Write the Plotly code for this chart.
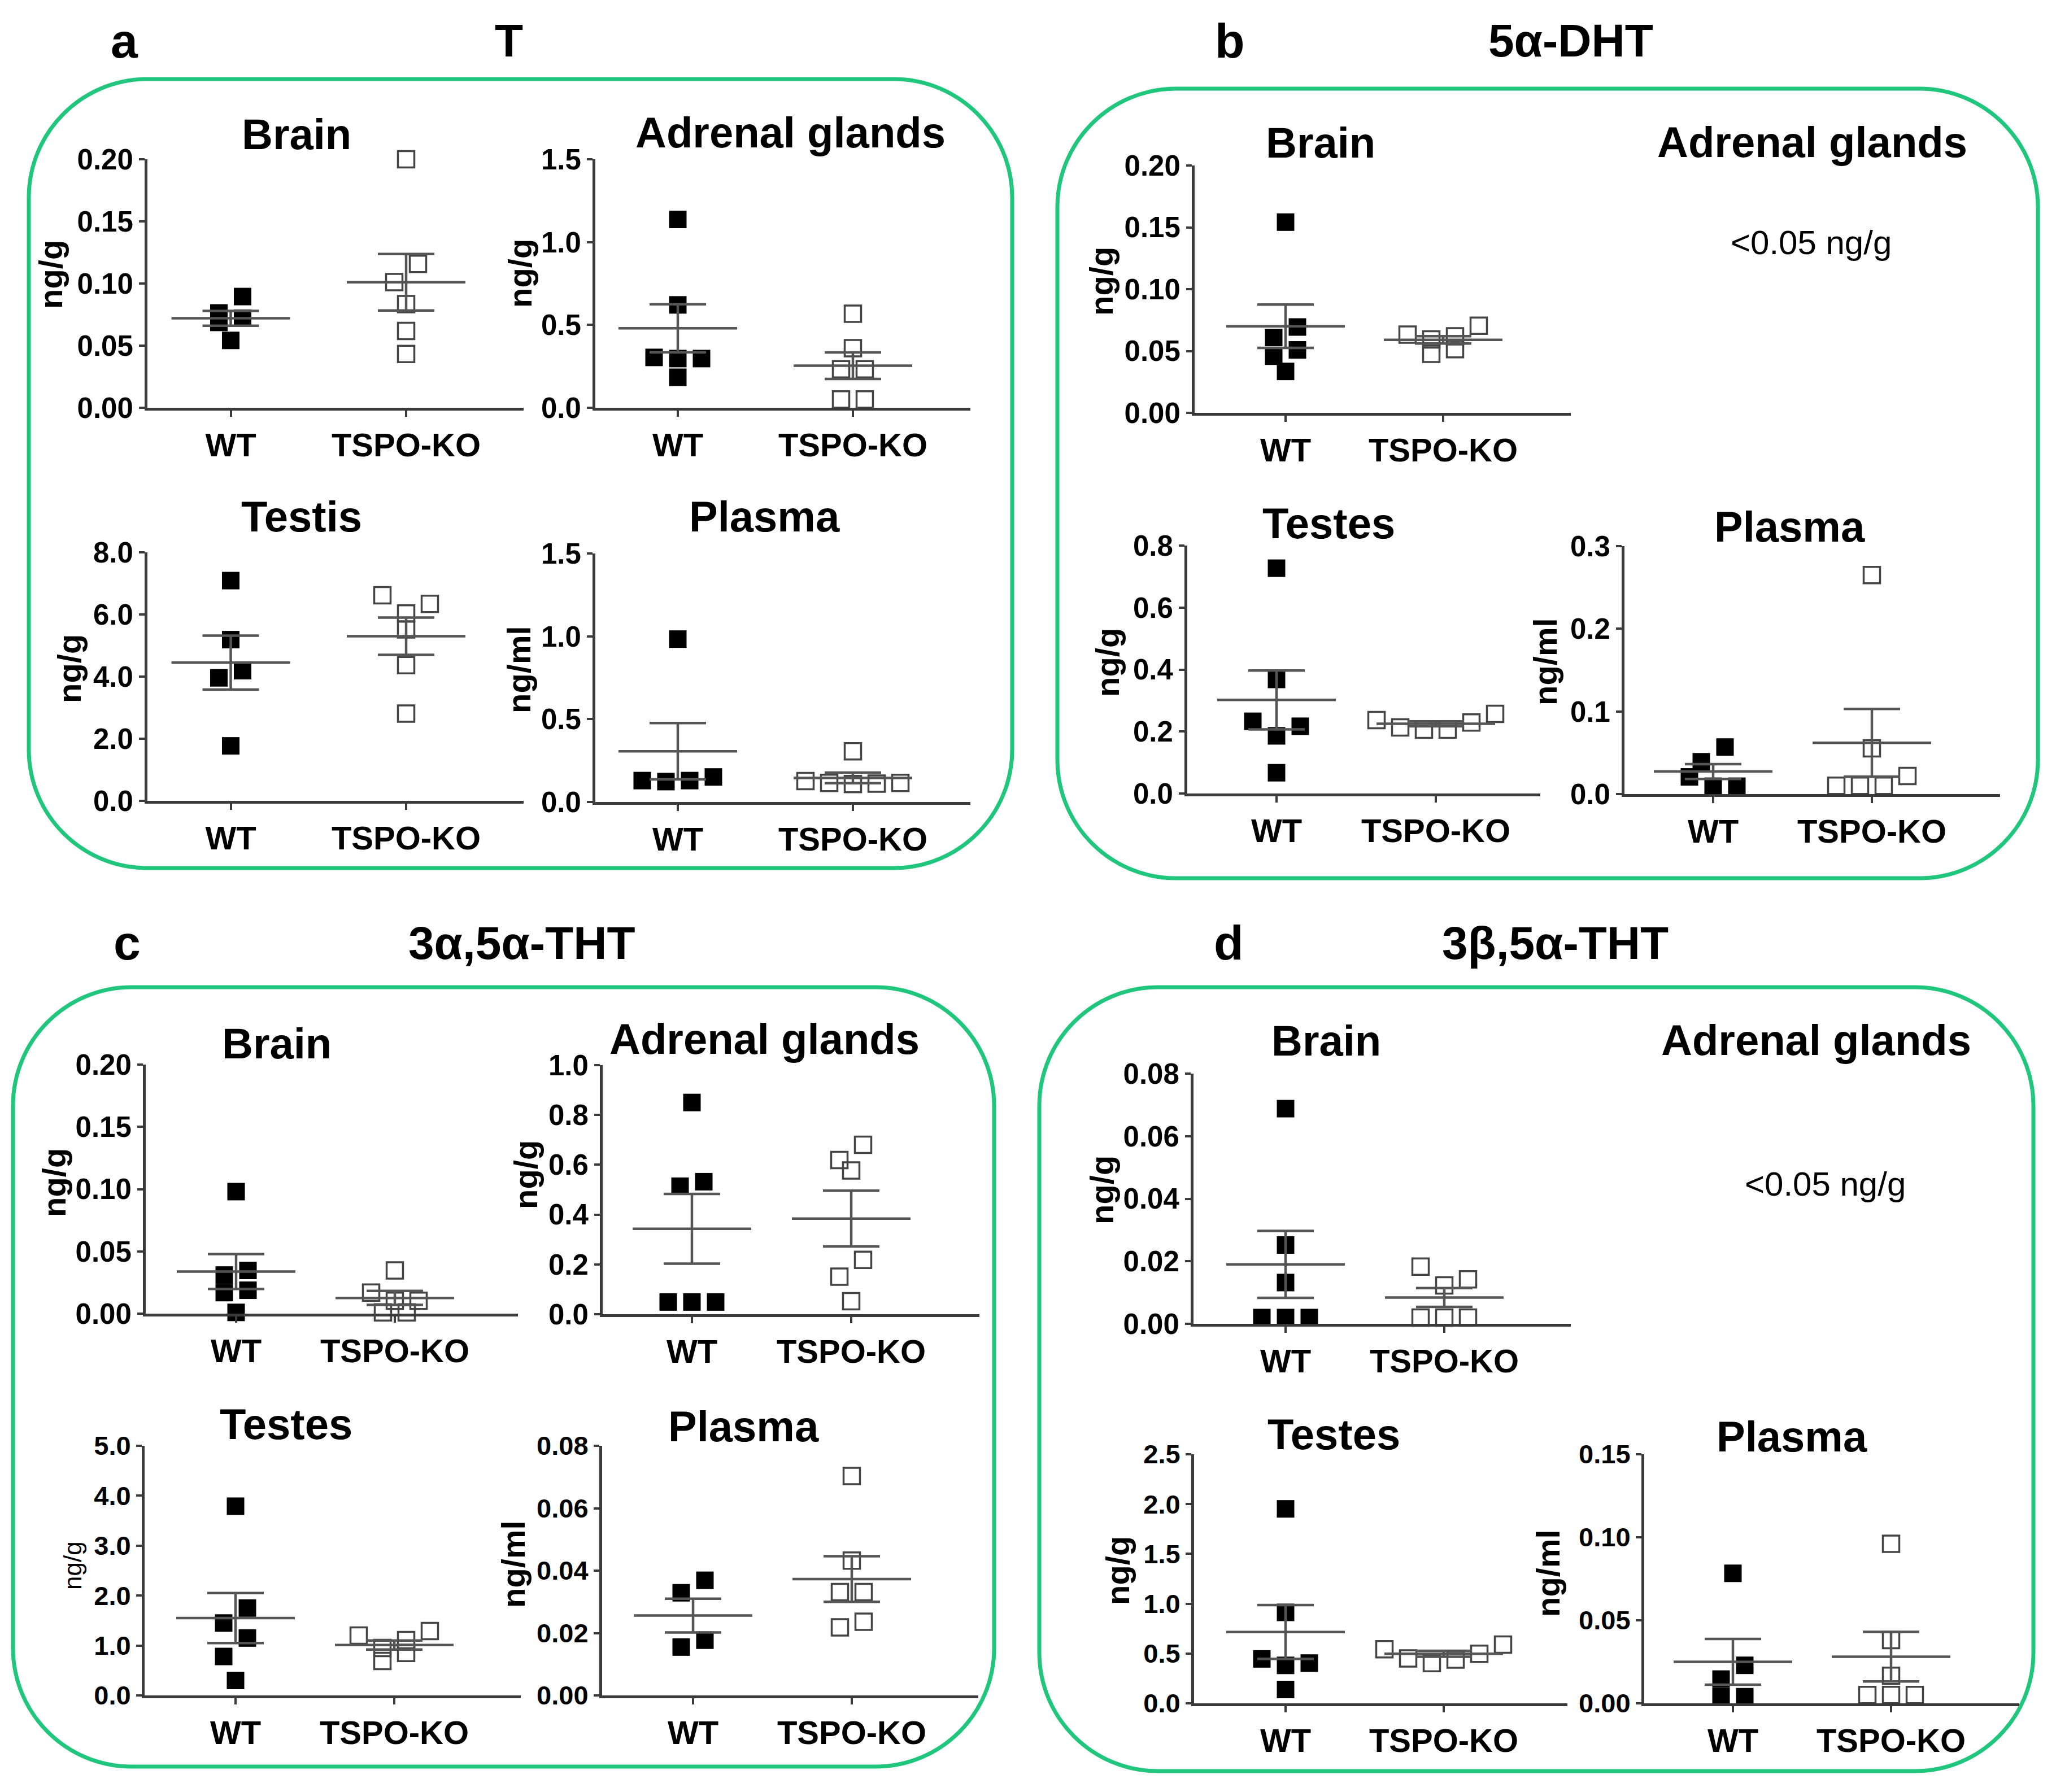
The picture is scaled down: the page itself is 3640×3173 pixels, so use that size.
import plotly.graph_objects as go

W, H = 3640, 3173
GROUPS = ["WT", "TSPO-KO"]
FONT = "Liberation Sans, Arial, Helvetica, sans-serif"

# ---------------- values ----------------
# a) T
T_brain_wt = [0.0895, 0.0763, 0.0721, 0.0687, 0.0542]
T_brain_ko = [0.200, 0.1158, 0.1011, 0.0834, 0.0618, 0.0433]
T_brain_mean = [0.072, 0.101]
T_brain_sem = [0.006, 0.0227]

T_adr_wt = [1.137, 0.621, 0.304, 0.297, 0.297, 0.184]
T_adr_ko = [0.568, 0.360, 0.233, 0.233, 0.05, 0.05]
T_adr_mean = [0.480, 0.254]
T_adr_sem = [0.145, 0.080]

T_tes_wt = [7.09, 5.19, 4.19, 3.96, 1.77]
T_tes_ko = [6.62, 6.34, 6.03, 5.52, 4.37, 2.81]
T_tes_mean = [4.45, 5.30]
T_tes_sem = [0.87, 0.60]

T_pla_wt = [0.983, 0.151, 0.129, 0.129, 0.123]
T_pla_ko = [0.306, 0.126, 0.115, 0.115, 0.111, 0.108]
T_pla_mean = [0.306, 0.145]
T_pla_sem = [0.170, 0.032]

# b) 5a-DHT
DHT_brain_wt = [0.1542, 0.0694, 0.0609, 0.0509, 0.0458, 0.0335]
DHT_brain_ko = [0.0704, 0.0632, 0.0619, 0.0594, 0.0515, 0.0477]
DHT_brain_mean = [0.070, 0.059]
DHT_brain_sem = [0.0175, 0.003]

DHT_tes_wt = [0.727, 0.368, 0.233, 0.217, 0.186, 0.067]
DHT_tes_ko = [0.257, 0.237, 0.229, 0.213, 0.206, 0.206]
DHT_tes_mean = [0.302, 0.225]
DHT_tes_sem = [0.095, 0.008]

DHT_pla_wt = [0.0569, 0.0391, 0.0208, 0.0095, 0.0095]
DHT_pla_ko = [0.265, 0.0554, 0.0219, 0.010, 0.010, 0.010]
DHT_pla_mean = [0.0273, 0.062]
DHT_pla_sem = [0.009, 0.041]

# c) 3a,5a-THT
aTHT_brain_wt = [0.098, 0.0347, 0.031, 0.0188, 0.0169, 0.001]
aTHT_brain_ko = [0.0347, 0.0169, 0.0103, 0.0103, 0.001, 0.001]
aTHT_brain_mean = [0.0338, 0.0126]
aTHT_brain_sem = [0.014, 0.0056]

aTHT_adr_wt = [0.850, 0.532, 0.514, 0.049, 0.049, 0.049]
aTHT_adr_ko = [0.680, 0.619, 0.577, 0.218, 0.151, 0.052]
aTHT_adr_mean = [0.343, 0.384]
aTHT_adr_sem = [0.140, 0.112]

aTHT_tes_wt = [3.79, 1.75, 1.45, 1.15, 0.78, 0.30]
aTHT_tes_ko = [1.29, 1.20, 1.11, 0.95, 0.85, 0.69]
aTHT_tes_mean = [1.55, 1.01]
aTHT_tes_sem = [0.50, 0.09]

aTHT_pla_wt = [0.0369, 0.0329, 0.0177, 0.0155]
aTHT_pla_ko = [0.0703, 0.0432, 0.0331, 0.0331, 0.0236, 0.0218]
aTHT_pla_mean = [0.0256, 0.0373]
aTHT_pla_sem = [0.0054, 0.0073]

# d) 3b,5a-THT
bTHT_brain_wt = [0.0688, 0.0252, 0.0132, 0.002, 0.002, 0.002]
bTHT_brain_ko = [0.0183, 0.0142, 0.0123, 0.002, 0.002, 0.002]
bTHT_brain_mean = [0.019, 0.0084]
bTHT_brain_sem = [0.0107, 0.003]

bTHT_tes_wt = [1.952, 0.913, 0.446, 0.404, 0.381, 0.139]
bTHT_tes_ko = [0.589, 0.543, 0.497, 0.451, 0.439, 0.404]
bTHT_tes_mean = [0.716, 0.497]
bTHT_tes_sem = [0.27, 0.03]

bTHT_pla_wt = [0.0783, 0.0229, 0.0146, 0.004, 0.004]
bTHT_pla_ko = [0.0961, 0.0381, 0.0166, 0.005, 0.005, 0.005]
bTHT_pla_mean = [0.025, 0.0281]
bTHT_pla_sem = [0.0138, 0.0149]

# y tick values
TICKS_020 = [0, 0.05, 0.10, 0.15, 0.20]
TICKS_15 = [0, 0.5, 1.0, 1.5]
TICKS_8 = [0, 2.0, 4.0, 6.0, 8.0]
TICKS_08 = [0, 0.2, 0.4, 0.6, 0.8]
TICKS_03 = [0, 0.1, 0.2, 0.3]
TICKS_10 = [0, 0.2, 0.4, 0.6, 0.8, 1.0]
TICKS_5 = [0, 1.0, 2.0, 3.0, 4.0, 5.0]
TICKS_008 = [0, 0.02, 0.04, 0.06, 0.08]
TICKS_25 = [0, 0.5, 1.0, 1.5, 2.0, 2.5]
TICKS_015 = [0, 0.05, 0.10, 0.15]

PANEL_LABELS = ["a", "b", "c", "d"]
PANEL_TITLES = ["T", "5α-DHT", "3α,5α-THT", "3β,5α-THT"]
BELOW_TEXT = "<0.05 ng/g"

# ---------------- layout (pixel geometry) ----------------
# box = (y-axis x, x-axis right end, top tick y, x-axis y); cx = (WT x, KO x)
PLOTS = [
    dict(title="Brain", ylab="ng/g", wt=T_brain_wt, ko=T_brain_ko, mean=T_brain_mean, sem=T_brain_sem,
         ticks=TICKS_020, fmt="{:.2f}", box=(261, 927, 282, 722), cx=(408.5, 719), tpos=(525, 237), lpos=(90, 486)),
    dict(title="Adrenal glands", ylab="ng/g", wt=T_adr_wt, ko=T_adr_ko, mean=T_adr_mean, sem=T_adr_sem,
         ticks=TICKS_15, fmt="{:.1f}", box=(1054, 1718, 282, 722), cx=(1200, 1510), tpos=(1399, 235), lpos=(920, 484)),
    dict(title="Testis", ylab="ng/g", wt=T_tes_wt, ko=T_tes_ko, mean=T_tes_mean, sem=T_tes_sem,
         ticks=TICKS_8, fmt="{:.1f}", box=(261, 927, 978, 1418), cx=(408.5, 719), tpos=(534, 915), lpos=(122, 1184)),
    dict(title="Plasma", ylab="ng/ml", wt=T_pla_wt, ko=T_pla_ko, mean=T_pla_mean, sem=T_pla_sem,
         ticks=TICKS_15, fmt="{:.1f}", box=(1054, 1718, 980, 1420), cx=(1200, 1510), tpos=(1353, 915), lpos=(918, 1186)),
    dict(title="Brain", ylab="ng/g", wt=DHT_brain_wt, ko=DHT_brain_ko, mean=DHT_brain_mean, sem=DHT_brain_sem,
         ticks=TICKS_020, fmt="{:.2f}", box=(2115, 2781, 293, 731), cx=(2276, 2555), tpos=(2338, 252), lpos=(1950, 498)),
    dict(title="Testes", ylab="ng/g", wt=DHT_tes_wt, ko=DHT_tes_ko, mean=DHT_tes_mean, sem=DHT_tes_sem,
         ticks=TICKS_08, fmt="{:.1f}", box=(2102, 2727, 966, 1405), cx=(2260, 2542), tpos=(2352, 926), lpos=(1960, 1173)),
    dict(title="Plasma", ylab="ng/ml", wt=DHT_pla_wt, ko=DHT_pla_ko, mean=DHT_pla_mean, sem=DHT_pla_sem,
         ticks=TICKS_03, fmt="{:.1f}", box=(2876, 3541, 967, 1406), cx=(3033, 3314), tpos=(3168, 932), lpos=(2736, 1172)),
    dict(title="Brain", ylab="ng/g", wt=aTHT_brain_wt, ko=aTHT_brain_ko, mean=aTHT_brain_mean, sem=aTHT_brain_sem,
         ticks=TICKS_020, fmt="{:.2f}", box=(258, 917, 1885, 2326), cx=(418, 699), tpos=(490, 1847), lpos=(95, 2094)),
    dict(title="Adrenal glands", ylab="ng/g", wt=aTHT_adr_wt, ko=aTHT_adr_ko, mean=aTHT_adr_mean, sem=aTHT_adr_sem,
         ticks=TICKS_10, fmt="{:.1f}", box=(1067, 1734, 1886, 2327), cx=(1225, 1507), tpos=(1353, 1839), lpos=(930, 2080)),
    dict(title="Testes", ylab="ng/g", wt=aTHT_tes_wt, ko=aTHT_tes_ko, mean=aTHT_tes_mean, sem=aTHT_tes_sem,
         ticks=TICKS_5, fmt="{:.1f}", box=(256, 922, 2560, 3002), cx=(417, 698), tpos=(506, 2521), lpos=(128, 2772),
         small_label=True, tsize=47),
    dict(title="Plasma", ylab="ng/ml", wt=aTHT_pla_wt, ko=aTHT_pla_ko, mean=aTHT_pla_mean, sem=aTHT_pla_sem,
         ticks=TICKS_008, fmt="{:.2f}", box=(1066, 1732, 2560, 3002), cx=(1227, 1508), tpos=(1316, 2525), lpos=(908, 2770),
         tsize=47),
    dict(title="Brain", ylab="ng/g", wt=bTHT_brain_wt, ko=bTHT_brain_ko, mean=bTHT_brain_mean, sem=bTHT_brain_sem,
         ticks=TICKS_008, fmt="{:.2f}", box=(2113, 2781, 1901, 2344), cx=(2276, 2557), tpos=(2348, 1842), lpos=(1950, 2107)),
    dict(title="Testes", ylab="ng/g", wt=bTHT_tes_wt, ko=bTHT_tes_ko, mean=bTHT_tes_mean, sem=bTHT_tes_sem,
         ticks=TICKS_25, fmt="{:.1f}", box=(2114, 2775, 2575, 3016), cx=(2276, 2556), tpos=(2361, 2539), lpos=(1978, 2781),
         tsize=47),
    dict(title="Plasma", ylab="ng/ml", wt=bTHT_pla_wt, ko=bTHT_pla_ko, mean=bTHT_pla_mean, sem=bTHT_pla_sem,
         ticks=TICKS_015, fmt="{:.2f}", box=(2911, 3575, 2575, 3016), cx=(3068, 3348), tpos=(3172, 2543), lpos=(2740, 2786),
         tsize=47),
]

EXTRA_TITLES = [("Adrenal glands", 3208, 251), ("Adrenal glands", 3215, 1841)]
EXTRA_TEXT = [(3206, 429), (3231, 2096)]
LABEL_POS = [(220, 72), (2177, 72), (225, 1669), (2175, 1669)]
TITLE_POS = [(901, 72), (2781, 72), (924, 1669), (2753, 1669)]
BOXES = [(51, 140, 1792, 1537), (1872, 157, 3608, 1555), (23, 1748, 1760, 3128), (1840, 1748, 3600, 3136)]

AXIS_COLOR = "#3a3a3a"
MEAN_COLOR = "#555555"
GREEN = "#1fc67c"
MARKER = 31
STEP_PX = 42
ROW_THR_PX = 34
OFFSET = 8  # default page margin of the html body


def px(x, y):
    return (x - OFFSET) / W, 1 - (y - OFFSET) / H


def swarm(vals, px_per_unit):
    order = sorted(range(len(vals)), key=lambda i: -vals[i])
    rows, cur, top = [], [], None
    for i in order:
        if top is not None and (top - vals[i]) * px_per_unit <= ROW_THR_PX:
            cur.append(i)
        else:
            if cur:
                rows.append(cur)
            cur, top = [i], vals[i]
    if cur:
        rows.append(cur)
    offs = [0.0] * len(vals)
    for row in rows:
        asc = sorted(row, key=lambda i: vals[i])
        n = len(asc)
        if n % 2:
            pos = [0]
            k = 1
            while len(pos) < n:
                pos += [k, -k]
                k += 1
        else:
            pos = []
            k = 0.5
            while len(pos) < n:
                pos += [-k, k]
                k += 1
        for j, i in enumerate(asc):
            offs[i] = pos[j]
    return offs


def rrect(x0, y0, x1, y1, r):
    k = 0.5523 * r
    pts = [
        ("M", [(x0 + r, y0)]),
        ("L", [(x1 - r, y0)]),
        ("C", [(x1 - r + k, y0), (x1, y0 + r - k), (x1, y0 + r)]),
        ("L", [(x1, y1 - r)]),
        ("C", [(x1, y1 - r + k), (x1 - r + k, y1), (x1 - r, y1)]),
        ("L", [(x0 + r, y1)]),
        ("C", [(x0 + r - k, y1), (x0, y1 - r + k), (x0, y1 - r)]),
        ("L", [(x0, y0 + r)]),
        ("C", [(x0, y0 + r - k), (x0 + r - k, y0), (x0 + r, y0)]),
    ]
    s = ""
    for cmd, ps in pts:
        s += cmd + " " + " ".join("%.5f,%.5f" % px(a, b) for a, b in ps) + " "
    return s + "Z"


fig = go.Figure()
layout = dict(
    width=W, height=H, margin=dict(l=0, r=0, t=0, b=0), template="none",
    paper_bgcolor="white", plot_bgcolor="rgba(0,0,0,0)", showlegend=False,
    font=dict(family=FONT, color="black"),
)
annotations = []
shapes = []

for i, p in enumerate(PLOTS, start=1):
    L, R, T, B = p["box"]
    cwt, cko = p["cx"]
    u = cko - cwt
    ymax = p["ticks"][-1]
    sfx = "" if i == 1 else str(i)
    xa, ya = "x" + sfx, "y" + sfx
    dx0, dy1 = px(L, B)
    dx1, dy0 = px(R, T)
    layout["xaxis" + sfx] = dict(
        domain=[dx0, dx1], range=[(L - cwt) / u, (R - cwt) / u], anchor=ya,
        tickvals=[0, 1], ticktext=GROUPS, showline=True, linecolor=AXIS_COLOR, linewidth=5,
        ticks="outside", ticklen=11, tickwidth=4, tickcolor=AXIS_COLOR, showgrid=False, zeroline=False,
        tickfont=dict(family=FONT, size=58, color="black", weight="bold"), automargin=False, fixedrange=True,
    )
    layout["yaxis" + sfx] = dict(
        domain=[dy1, dy0], range=[0, ymax], anchor=xa,
        tickvals=p["ticks"], ticktext=[p["fmt"].format(v) for v in p["ticks"]],
        showline=True, linecolor=AXIS_COLOR, linewidth=5, ticks="outside", ticklen=10, tickwidth=4,
        tickcolor=AXIS_COLOR, showgrid=False, zeroline=False,
        tickfont=dict(family=FONT, size=p.get("tsize", 51), color="black", weight="bold"),
        automargin=False, fixedrange=True,
    )
    ppu = (B - T) / ymax
    step = STEP_PX / u
    for gi, vals in enumerate((p["wt"], p["ko"])):
        offs = swarm(vals, ppu)
        xs = [gi + o * step for o in offs]
        if gi == 0:
            mk = dict(symbol="square", size=MARKER, color="black", line=dict(width=0))
        else:
            mk = dict(symbol="square-open", size=MARKER - 2, color="#444444", line=dict(width=3.5, color="#444444"))
        fig.add_trace(go.Scatter(x=xs, y=vals, xaxis=xa, yaxis=ya, mode="markers", marker=mk,
                                 cliponaxis=False, hoverinfo="skip"))
    hw, cw = 105 / u, 50 / u
    for gi in (0, 1):
        m, s = p["mean"][gi], p["sem"][gi]
        xs = [gi - hw, gi + hw, None, gi, gi, None, gi - cw, gi + cw, None, gi - cw, gi + cw]
        ys = [m, m, None, m - s, m + s, None, m + s, m + s, None, m - s, m - s]
        fig.add_trace(go.Scatter(x=xs, y=ys, xaxis=xa, yaxis=ya, mode="lines",
                                 line=dict(color=MEAN_COLOR, width=4.5), cliponaxis=False, hoverinfo="skip"))
    tx, ty = px(*p["tpos"])
    annotations.append(dict(text="<b>%s</b>" % p["title"], x=tx, y=ty, xref="paper", yref="paper",
                            xanchor="center", yanchor="middle", showarrow=False,
                            font=dict(family=FONT, size=76, color="black")))
    lx, ly = px(*p["lpos"])
    if p.get("small_label"):
        ltxt, lsize = p["ylab"], 44
    else:
        ltxt, lsize = "<b>%s</b>" % p["ylab"], 58
    annotations.append(dict(text=ltxt, x=lx, y=ly, xref="paper", yref="paper", textangle=-90,
                            xanchor="center", yanchor="middle", showarrow=False,
                            font=dict(family=FONT, size=lsize, color="black")))

for t, x, y in EXTRA_TITLES:
    ax, ay = px(x, y)
    annotations.append(dict(text="<b>%s</b>" % t, x=ax, y=ay, xref="paper", yref="paper",
                            xanchor="center", yanchor="middle", showarrow=False,
                            font=dict(family=FONT, size=76, color="black")))
for x, y in EXTRA_TEXT:
    ax, ay = px(x, y)
    annotations.append(dict(text=BELOW_TEXT.replace("<", "&lt;"), x=ax, y=ay, xref="paper", yref="paper",
                            xanchor="center", yanchor="middle", showarrow=False,
                            font=dict(family=FONT, size=60, color="black")))
for lab, (x, y) in zip(PANEL_LABELS, LABEL_POS):
    ax, ay = px(x, y)
    annotations.append(dict(text="<b>%s</b>" % lab, x=ax, y=ay, xref="paper", yref="paper",
                            xanchor="center", yanchor="middle", showarrow=False,
                            font=dict(family=FONT, size=86, color="black")))
for t, (x, y) in zip(PANEL_TITLES, TITLE_POS):
    ax, ay = px(x, y)
    annotations.append(dict(text="<b>%s</b>" % t, x=ax, y=ay, xref="paper", yref="paper",
                            xanchor="center", yanchor="middle", showarrow=False,
                            font=dict(family=FONT, size=82, color="black")))

for (x0, y0, x1, y1) in BOXES:
    shapes.append(dict(type="path", path=rrect(x0, y0, x1, y1, 210), xref="paper", yref="paper",
                       line=dict(color=GREEN, width=7), fillcolor="rgba(0,0,0,0)", layer="below"))

layout["annotations"] = annotations
layout["shapes"] = shapes
fig.update_layout(**layout)
fig.write_html("out.html")
